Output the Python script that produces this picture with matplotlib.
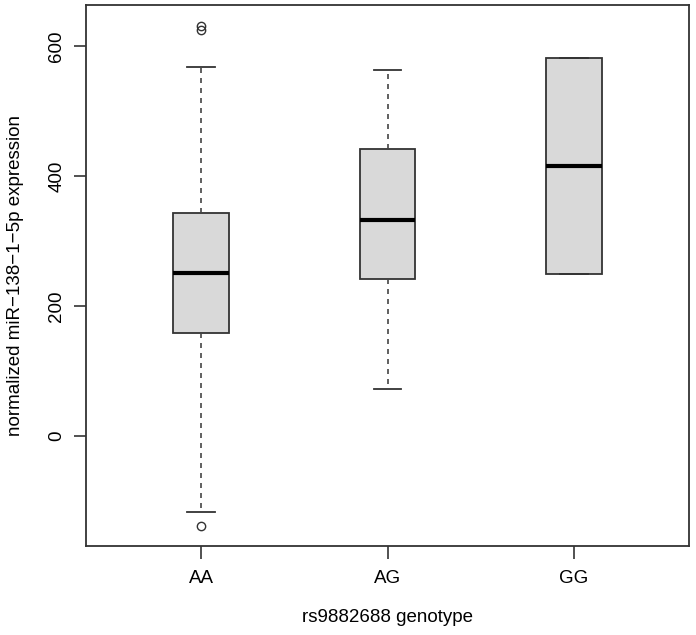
import matplotlib
matplotlib.use("Agg")
import matplotlib.pyplot as plt

plt.rcParams['font.family'] = ['Liberation Sans', 'DejaVu Sans']

genotypes = ["AA", "AG", "GG"]
q1 = [158, 242, 249]
medians = [251, 332, 416]
q3 = [343, 442, 582]
whisker_low = [-116, 72, 249]
whisker_high = [568, 563, 582]
outliers = [[-138, 624, 630], [], []]

stats = []
for i, g in enumerate(genotypes):
    stats.append(dict(label=g, q1=q1[i], med=medians[i], q3=q3[i],
                      whislo=whisker_low[i], whishi=whisker_high[i],
                      fliers=outliers[i]))

fig = plt.figure(figsize=(6.96, 6.35), dpi=100)
ax = fig.add_axes([86/696, 1-546/635, (689-86)/696, (546-5.3)/635])

ax.bxp(stats, positions=[1, 2, 3], widths=0.3, patch_artist=True,
       boxprops=dict(facecolor="#d9d9d9", edgecolor="#333333", linewidth=1.3),
       medianprops=dict(color="black", linewidth=3.0),
       whiskerprops=dict(color="#444444", linewidth=1.2, linestyle=(0, (3, 3))),
       capprops=dict(color="#333333", linewidth=1.3),
       capwidths=0.15,
       flierprops=dict(marker="o", markerfacecolor="none", markeredgecolor="#333333",
                       markersize=6, markeredgewidth=1.0))

fs = 13.5
ax.set_xlim(0.38, 3.62)
ax.set_ylim(-169, 662.6)
ax.set_yticks([0, 200, 400, 600])
ax.set_yticklabels(["0", "200", "400", "600"], rotation=90, va="center")
ax.set_xticks([1, 2, 3])
ax.set_xticklabels(genotypes)
ax.tick_params(axis="both", labelsize=fs, length=9, width=1.2, color="#333333")
ax.tick_params(axis="y", pad=6)
ax.tick_params(axis="x", pad=8.5)
for s in ax.spines.values():
    s.set_linewidth(1.3)
    s.set_color("#333333")

fig.text(387.5/696, 1-617/635, "rs9882688 genotype", ha="center", va="center", fontsize=fs)
fig.text(16/696, 1-275.5/635, "normalized miR\u2212138\u22121\u22125p expression",
         ha="center", va="center", rotation=90, fontsize=fs)

fig.savefig("out.png", dpi=100)
